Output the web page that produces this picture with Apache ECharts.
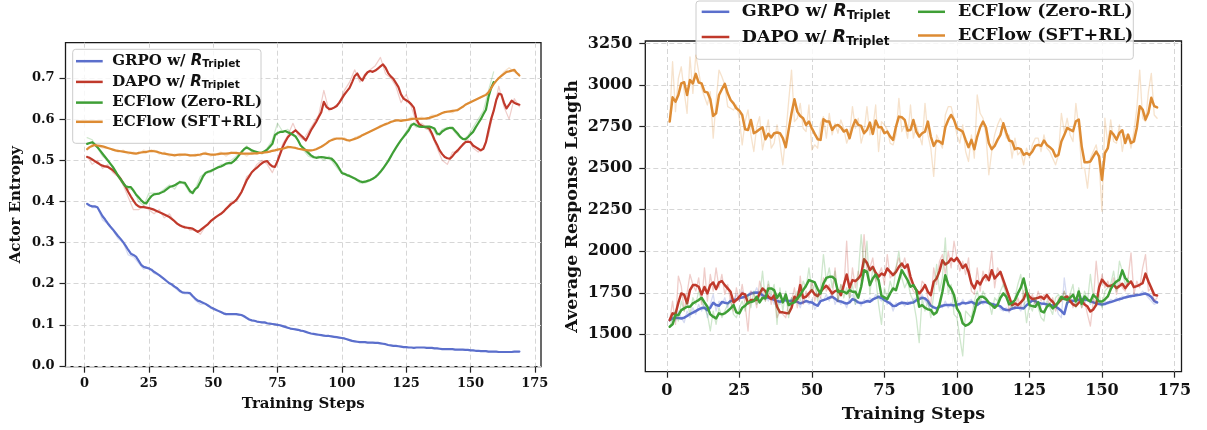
<!DOCTYPE html>
<html>
<head>
<meta charset="utf-8">
<script src="https://cdn.jsdelivr.net/npm/echarts@6/dist/echarts.min.js"></script>
<style>
  html, body { margin: 0; padding: 0; background: #fff; }
  #chart { width: 1207px; height: 430px; }
</style>
</head>
<body>
<div id="chart"></div>
<script>
// ---- data: actor entropy (left), smoothed lines, one value per step from step 1
var entGrpo = [
  0.394, 0.390, 0.388, 0.388, 0.386, 0.375, 0.364, 0.356, 0.347, 0.339,
  0.332, 0.324, 0.316, 0.309, 0.301, 0.292, 0.282, 0.273, 0.270, 0.266,
  0.256, 0.246, 0.241, 0.239, 0.237, 0.234, 0.229, 0.225, 0.221, 0.216,
  0.211, 0.206, 0.201, 0.198, 0.193, 0.189, 0.183, 0.179, 0.178, 0.178,
  0.177, 0.170, 0.164, 0.159, 0.157, 0.154, 0.151, 0.147, 0.143, 0.140,
  0.137, 0.134, 0.131, 0.128, 0.126, 0.126, 0.126, 0.126, 0.126, 0.125,
  0.124, 0.121, 0.117, 0.113, 0.111, 0.110, 0.108, 0.107, 0.106, 0.106,
  0.104, 0.103, 0.102, 0.101, 0.100, 0.099, 0.097, 0.095, 0.093, 0.091,
  0.090, 0.089, 0.088, 0.086, 0.085, 0.083, 0.081, 0.079, 0.078, 0.077,
  0.076, 0.075, 0.074, 0.073, 0.073, 0.072, 0.071, 0.070, 0.069, 0.068,
  0.067, 0.065, 0.063, 0.061, 0.060, 0.059, 0.058, 0.058, 0.058, 0.057,
  0.057, 0.057, 0.056, 0.056, 0.055, 0.054, 0.053, 0.051, 0.050, 0.049,
  0.049, 0.048, 0.047, 0.046, 0.046, 0.045, 0.045, 0.044, 0.045, 0.045,
  0.045, 0.045, 0.044, 0.044, 0.044, 0.043, 0.043, 0.042, 0.041, 0.041,
  0.041, 0.041, 0.041, 0.040, 0.040, 0.040, 0.040, 0.039, 0.039, 0.038,
  0.038, 0.037, 0.037, 0.036, 0.036, 0.036, 0.035, 0.035, 0.035, 0.035,
  0.034, 0.034, 0.034, 0.034, 0.034, 0.034, 0.035, 0.035, 0.035
];
var entDapo = [
  0.508, 0.506, 0.502, 0.498, 0.494, 0.490, 0.487, 0.485, 0.484, 0.480,
  0.476, 0.470, 0.463, 0.455, 0.445, 0.435, 0.423, 0.412, 0.402, 0.393,
  0.388, 0.386, 0.386, 0.385, 0.384, 0.382, 0.380, 0.377, 0.374, 0.371,
  0.368, 0.365, 0.362, 0.357, 0.352, 0.346, 0.342, 0.339, 0.337, 0.336,
  0.335, 0.334, 0.330, 0.326, 0.330, 0.335, 0.340, 0.345, 0.352, 0.357,
  0.362, 0.366, 0.370, 0.375, 0.382, 0.388, 0.394, 0.398, 0.404, 0.413,
  0.423, 0.437, 0.451, 0.461, 0.471, 0.477, 0.482, 0.488, 0.493, 0.497,
  0.498, 0.490, 0.485, 0.484, 0.498, 0.515, 0.532, 0.545, 0.556, 0.563,
  0.568, 0.573, 0.567, 0.561, 0.555, 0.548, 0.560, 0.573, 0.583, 0.593,
  0.605, 0.617, 0.642, 0.630, 0.625, 0.625, 0.628, 0.632, 0.640, 0.650,
  0.660, 0.668, 0.676, 0.690, 0.705, 0.711, 0.700, 0.694, 0.706, 0.714,
  0.717, 0.715, 0.718, 0.723, 0.728, 0.733, 0.725, 0.712, 0.704, 0.698,
  0.688, 0.678, 0.660, 0.650, 0.646, 0.642, 0.636, 0.628, 0.600, 0.588,
  0.584, 0.581, 0.580, 0.577, 0.565, 0.550, 0.538, 0.524, 0.515, 0.508,
  0.505, 0.504, 0.510, 0.518, 0.524, 0.531, 0.538, 0.544, 0.545, 0.544,
  0.536, 0.532, 0.528, 0.524, 0.528, 0.544, 0.573, 0.600, 0.620, 0.646,
  0.662, 0.660, 0.640, 0.626, 0.635, 0.645, 0.640, 0.637, 0.635
];
var entZero = [
  0.540, 0.542, 0.544, 0.538, 0.532, 0.524, 0.516, 0.508, 0.500, 0.492,
  0.484, 0.474, 0.463, 0.454, 0.445, 0.437, 0.435, 0.435, 0.426, 0.417,
  0.410, 0.403, 0.397, 0.395, 0.405, 0.413, 0.417, 0.418, 0.419, 0.422,
  0.425, 0.430, 0.435, 0.437, 0.439, 0.443, 0.447, 0.446, 0.445, 0.435,
  0.425, 0.420, 0.430, 0.435, 0.447, 0.460, 0.469, 0.472, 0.474, 0.477,
  0.480, 0.483, 0.485, 0.488, 0.492, 0.493, 0.493, 0.498, 0.504, 0.512,
  0.520, 0.527, 0.531, 0.528, 0.524, 0.522, 0.520, 0.518, 0.519, 0.522,
  0.526, 0.533, 0.540, 0.561, 0.566, 0.569, 0.569, 0.571, 0.568, 0.565,
  0.562, 0.558, 0.548, 0.536, 0.530, 0.524, 0.518, 0.512, 0.508, 0.506,
  0.507, 0.508, 0.507, 0.506, 0.505, 0.504, 0.498, 0.490, 0.480, 0.469,
  0.467, 0.464, 0.462, 0.459, 0.456, 0.452, 0.449, 0.447, 0.448, 0.450,
  0.452, 0.455, 0.459, 0.465, 0.472, 0.480, 0.489, 0.498, 0.509, 0.520,
  0.530, 0.540, 0.549, 0.557, 0.565, 0.573, 0.585, 0.589, 0.585, 0.582,
  0.581, 0.581, 0.582, 0.582, 0.580, 0.577, 0.565, 0.563, 0.570, 0.574,
  0.577, 0.579, 0.579, 0.572, 0.565, 0.557, 0.552, 0.551, 0.556, 0.563,
  0.569, 0.580, 0.590, 0.600, 0.612, 0.623, 0.654, 0.675, 0.690
];
var entSft = [
  0.527, 0.532, 0.535, 0.537, 0.536, 0.535, 0.534, 0.532, 0.530, 0.528,
  0.526, 0.524, 0.523, 0.522, 0.521, 0.520, 0.519, 0.518, 0.517, 0.516,
  0.518, 0.519, 0.520, 0.520, 0.522, 0.523, 0.522, 0.521, 0.519, 0.517,
  0.516, 0.515, 0.514, 0.513, 0.512, 0.513, 0.514, 0.514, 0.514, 0.513,
  0.512, 0.512, 0.512, 0.513, 0.514, 0.516, 0.516, 0.515, 0.514, 0.514,
  0.514, 0.515, 0.516, 0.516, 0.516, 0.517, 0.518, 0.518, 0.518, 0.517,
  0.516, 0.516, 0.516, 0.516, 0.516, 0.517, 0.517, 0.518, 0.518, 0.519,
  0.520, 0.521, 0.523, 0.524, 0.526, 0.527, 0.528, 0.530, 0.532, 0.532,
  0.531, 0.530, 0.528, 0.527, 0.526, 0.525, 0.524, 0.524, 0.525, 0.527,
  0.530, 0.533, 0.537, 0.541, 0.546, 0.549, 0.551, 0.553, 0.553, 0.553,
  0.551, 0.549, 0.548, 0.550, 0.552, 0.554, 0.557, 0.561, 0.564, 0.567,
  0.570, 0.573, 0.576, 0.579, 0.582, 0.585, 0.588, 0.590, 0.593, 0.595,
  0.597, 0.597, 0.596, 0.597, 0.598, 0.599, 0.600, 0.601, 0.601, 0.601,
  0.601, 0.601, 0.602, 0.603, 0.605, 0.607, 0.609, 0.612, 0.615, 0.617,
  0.618, 0.619, 0.620, 0.621, 0.622, 0.626, 0.630, 0.635, 0.638, 0.641,
  0.644, 0.647, 0.650, 0.653, 0.656, 0.659, 0.665, 0.675, 0.685, 0.693,
  0.700, 0.705, 0.710, 0.715, 0.716, 0.718, 0.720, 0.712, 0.706
];
// raw (unsmoothed) entropy, read at odd steps 1, 3, 5, ...
var entGrpoRaw = [
  0.395, 0.385, 0.385, 0.355, 0.345, 0.330, 0.310, 0.300, 0.270, 0.265,
  0.250, 0.235, 0.240, 0.225, 0.220, 0.210, 0.200, 0.190, 0.180, 0.175,
  0.175, 0.160, 0.150, 0.152, 0.140, 0.135, 0.130, 0.125, 0.127, 0.125,
  0.123, 0.115, 0.110, 0.108, 0.105, 0.103, 0.102, 0.100, 0.096, 0.092,
  0.090, 0.087, 0.085, 0.080, 0.078, 0.075, 0.074, 0.072, 0.071, 0.068,
  0.066, 0.062, 0.060, 0.058, 0.058, 0.057, 0.056, 0.055, 0.053, 0.050,
  0.049, 0.047, 0.046, 0.045, 0.045, 0.045, 0.044, 0.044, 0.043, 0.041,
  0.041, 0.041, 0.040, 0.040, 0.039, 0.038, 0.037, 0.036, 0.035, 0.035,
  0.034, 0.034, 0.034, 0.035, 0.035
];
var entDapoRaw = [
  0.510, 0.490, 0.500, 0.480, 0.490, 0.470, 0.460, 0.440, 0.410, 0.380,
  0.380, 0.390, 0.380, 0.370, 0.380, 0.360, 0.370, 0.350, 0.340, 0.340,
  0.330, 0.330, 0.320, 0.340, 0.350, 0.360, 0.370, 0.380, 0.400, 0.400,
  0.420, 0.460, 0.470, 0.490, 0.500, 0.490, 0.470, 0.500, 0.540, 0.560,
  0.590, 0.560, 0.550, 0.570, 0.590, 0.610, 0.670, 0.620, 0.630, 0.640,
  0.670, 0.690, 0.720, 0.690, 0.710, 0.720, 0.730, 0.750, 0.710, 0.700,
  0.680, 0.640, 0.660, 0.630, 0.590, 0.590, 0.580, 0.560, 0.530, 0.500,
  0.490, 0.520, 0.520, 0.540, 0.550, 0.530, 0.520, 0.530, 0.560, 0.620,
  0.680, 0.630, 0.600, 0.650, 0.630
];
var entZeroRaw = [
  0.555, 0.550, 0.530, 0.510, 0.500, 0.480, 0.460, 0.440, 0.430, 0.430,
  0.400, 0.390, 0.420, 0.420, 0.420, 0.430, 0.440, 0.430, 0.450, 0.440,
  0.420, 0.430, 0.460, 0.470, 0.470, 0.480, 0.490, 0.490, 0.500, 0.510,
  0.520, 0.535, 0.520, 0.520, 0.515, 0.530, 0.550, 0.590, 0.570, 0.575,
  0.560, 0.550, 0.525, 0.510, 0.505, 0.510, 0.500, 0.510, 0.490, 0.475,
  0.465, 0.460, 0.455, 0.445, 0.445, 0.450, 0.460, 0.470, 0.490, 0.510,
  0.530, 0.550, 0.570, 0.590, 0.580, 0.585, 0.575, 0.580, 0.560, 0.575,
  0.580, 0.575, 0.560, 0.550, 0.560, 0.580, 0.600, 0.620, 0.670, 0.715
];
var entSftRaw = [
  0.525, 0.540, 0.535, 0.530, 0.530, 0.525, 0.520, 0.525, 0.515, 0.520,
  0.515, 0.525, 0.520, 0.525, 0.515, 0.520, 0.510, 0.515, 0.510, 0.515,
  0.510, 0.515, 0.510, 0.520, 0.510, 0.515, 0.520, 0.510, 0.520, 0.515,
  0.520, 0.510, 0.520, 0.515, 0.520, 0.520, 0.525, 0.525, 0.530, 0.535,
  0.530, 0.530, 0.525, 0.520, 0.525, 0.530, 0.535, 0.545, 0.555, 0.550,
  0.555, 0.545, 0.555, 0.560, 0.565, 0.570, 0.575, 0.585, 0.585, 0.595,
  0.595, 0.600, 0.595, 0.605, 0.600, 0.605, 0.600, 0.610, 0.610, 0.615,
  0.620, 0.615, 0.625, 0.630, 0.640, 0.645, 0.650, 0.655, 0.665, 0.685,
  0.700, 0.715, 0.725, 0.715, 0.710
];

// ---- data: average response length (right), one value per step from step 1
var lenGrpo = [
  1585, 1596, 1600, 1598, 1595, 1600, 1610, 1622, 1630, 1640,
  1650, 1658, 1660, 1645, 1660, 1690, 1676, 1672, 1695, 1690,
  1686, 1700, 1706, 1710, 1718, 1722, 1726, 1735, 1745, 1750,
  1752, 1750, 1735, 1726, 1720, 1716, 1708, 1700, 1696, 1702,
  1706, 1700, 1702, 1700, 1695, 1686, 1692, 1700, 1695, 1692,
  1680, 1672, 1700, 1706, 1712, 1720, 1726, 1715, 1700, 1698,
  1690, 1685, 1692, 1712, 1705, 1692, 1688, 1692, 1700, 1696,
  1710, 1718, 1726, 1718, 1706, 1696, 1685, 1670, 1672, 1684,
  1690, 1688, 1684, 1690, 1692, 1705, 1712, 1720, 1716, 1700,
  1672, 1662, 1656, 1665, 1672, 1676, 1676, 1676, 1674, 1678,
  1682, 1690, 1686, 1690, 1695, 1686, 1676, 1690, 1694, 1694,
  1688, 1682, 1678, 1676, 1668, 1652, 1646, 1646, 1654, 1660,
  1660, 1658, 1656, 1675, 1690, 1704, 1700, 1690, 1686, 1684,
  1680, 1676, 1674, 1668, 1655, 1640, 1622, 1690, 1700, 1702,
  1704, 1708, 1712, 1710, 1706, 1700, 1692, 1686, 1682, 1680,
  1682, 1690, 1694, 1700, 1706, 1712, 1716, 1722, 1726, 1730,
  1732, 1736, 1738, 1742, 1745, 1738, 1725, 1700, 1692
];
var lenDapo = [
  1586, 1626, 1622, 1690, 1746, 1738, 1686, 1766, 1796, 1796,
  1786, 1740, 1785, 1746, 1796, 1812, 1772, 1812, 1820, 1796,
  1776, 1756, 1692, 1706, 1726, 1746, 1740, 1686, 1706, 1706,
  1706, 1745, 1776, 1760, 1726, 1712, 1734, 1666, 1632, 1632,
  1628, 1626, 1660, 1726, 1712, 1796, 1720, 1726, 1746, 1766,
  1740, 1730, 1756, 1776, 1792, 1772, 1746, 1760, 1766, 1736,
  1796, 1860, 1780, 1826, 1820, 1836, 1860, 1952, 1930, 1886,
  1906, 1870, 1846, 1866, 1856, 1896, 1876, 1856, 1876, 1906,
  1926, 1900, 1920, 1846, 1796, 1766, 1746, 1766, 1796, 1756,
  1736, 1816, 1836, 1880, 1946, 1920, 1932, 1956, 1940, 1960,
  1932, 1900, 1920, 1876, 1806, 1776, 1820, 1800, 1836, 1856,
  1826, 1886, 1836, 1856, 1876, 1826, 1776, 1726, 1676, 1686,
  1676, 1692, 1712, 1756, 1726, 1712, 1715, 1720, 1726, 1712,
  1736, 1712, 1696, 1672, 1690, 1712, 1720, 1728, 1700, 1680,
  1671, 1690, 1698, 1680, 1667, 1637, 1650, 1677, 1784, 1829,
  1808, 1790, 1792, 1798, 1778, 1790, 1804, 1778, 1800, 1818,
  1784, 1790, 1798, 1808, 1865, 1818, 1778, 1738, 1734
];
var lenZero = [
  1546, 1560, 1616, 1616, 1646, 1656, 1666, 1666, 1686, 1696,
  1706, 1720, 1692, 1666, 1620, 1606, 1596, 1626, 1620, 1626,
  1640, 1656, 1676, 1632, 1626, 1660, 1672, 1692, 1694, 1700,
  1726, 1692, 1720, 1716, 1776, 1776, 1766, 1720, 1746, 1692,
  1740, 1676, 1686, 1692, 1716, 1736, 1766, 1792, 1826, 1820,
  1812, 1772, 1746, 1806, 1840, 1846, 1846, 1832, 1756, 1760,
  1756, 1746, 1766, 1756, 1756, 1720, 1786, 1886, 1876, 1796,
  1836, 1860, 1826, 1732, 1722, 1712, 1746, 1776, 1766, 1826,
  1886, 1856, 1826, 1786, 1796, 1766, 1666, 1676, 1660, 1650,
  1646, 1620, 1632, 1680, 1756, 1856, 1800, 1776, 1736, 1656,
  1626, 1566, 1552, 1560, 1576, 1636, 1706, 1726, 1726, 1712,
  1690, 1676, 1660, 1676, 1720, 1746, 1726, 1680, 1690, 1706,
  1746, 1780, 1836, 1760, 1676, 1670, 1666, 1692, 1640, 1632,
  1666, 1680, 1656, 1670, 1696, 1726, 1712, 1708, 1720, 1738,
  1698, 1758, 1683, 1728, 1710, 1698, 1738, 1720, 1698, 1698,
  1710, 1728, 1772, 1800, 1818, 1829, 1885, 1839, 1818
];
var lenSft = [
  2780, 2926, 2900, 2940, 3010, 3017, 2940, 3030, 3010, 3067,
  3015, 3010, 2960, 2956, 2914, 2814, 2830, 2940, 2975, 3007,
  2950, 2910, 2890, 2860, 2846, 2820, 2734, 2730, 2790, 2710,
  2720, 2734, 2746, 2674, 2706, 2684, 2710, 2714, 2710, 2680,
  2626, 2730, 2830, 2914, 2840, 2814, 2800, 2760, 2780, 2740,
  2706, 2674, 2670, 2794, 2780, 2780, 2730, 2754, 2760, 2746,
  2720, 2730, 2680, 2746, 2790, 2760, 2754, 2710, 2730, 2774,
  2706, 2786, 2746, 2746, 2710, 2720, 2690, 2670, 2750, 2810,
  2806, 2790, 2726, 2730, 2790, 2720, 2690, 2710, 2720, 2780,
  2690, 2634, 2665, 2660, 2646, 2746, 2790, 2820, 2790, 2740,
  2730, 2720, 2670, 2626, 2670, 2614, 2690, 2746, 2780, 2746,
  2650, 2614, 2634, 2670, 2700, 2770, 2714, 2666, 2660, 2614,
  2620, 2614, 2580, 2590, 2580, 2600, 2634, 2640, 2634, 2666,
  2640, 2626, 2610, 2570, 2580, 2660, 2700, 2742, 2732, 2722,
  2782, 2792, 2631, 2535, 2535, 2540, 2570, 2600, 2570, 2430,
  2590, 2621, 2722, 2702, 2671, 2712, 2728, 2651, 2702, 2651,
  2661, 2742, 2873, 2853, 2792, 2833, 2923, 2873, 2865
];
var lenGrpoRaw = [
  1580, 1620, 1580, 1640, 1600, 1570, 1640, 1600, 1660, 1620,
  1680, 1640, 1700, 1600, 1680, 1740, 1640, 1700, 1680, 1720,
  1660, 1720, 1700, 1740, 1700, 1760, 1720, 1740, 1760, 1740,
  1780, 1740, 1720, 1740, 1700, 1740, 1680, 1720, 1680, 1720,
  1700, 1680, 1720, 1690, 1700, 1660, 1720, 1700, 1680, 1710,
  1650, 1680, 1720, 1700, 1740, 1700, 1760, 1680, 1720, 1680,
  1700, 1660, 1720, 1740, 1680, 1700, 1670, 1710, 1690, 1720,
  1700, 1740, 1720, 1700, 1720, 1680, 1700, 1640, 1690, 1680,
  1700, 1670, 1700, 1680, 1710, 1720, 1700, 1740, 1700, 1680,
  1640, 1670, 1640, 1690, 1660, 1700, 1660, 1690, 1660, 1700,
  1670, 1710, 1680, 1700, 1710, 1660, 1680, 1710, 1680, 1700,
  1680, 1690, 1660, 1690, 1650, 1640, 1660, 1630, 1670, 1650,
  1670, 1640, 1680, 1700, 1700, 1720, 1680, 1700, 1670, 1700,
  1660, 1690, 1660, 1680, 1620, 1600, 1840, 1700, 1720, 1690,
  1720, 1700, 1730, 1690, 1720, 1680, 1700, 1670, 1690, 1670,
  1700, 1680, 1710, 1700, 1720, 1700, 1730, 1720, 1740, 1720,
  1750, 1730, 1740, 1760, 1740, 1720, 1700, 1680, 1690
];
var lenDapoRaw = [
  1580, 1700, 1560, 1850, 1790, 1640, 1750, 1860, 1800, 1760,
  1840, 1680, 1900, 1700, 1860, 1760, 1900, 1780, 1860, 1740,
  1800, 1700, 1640, 1780, 1700, 1800, 1680, 1520, 1760, 1740,
  1660, 1820, 1760, 1700, 1800, 1680, 1760, 1600, 1640, 1620,
  1600, 1680, 1700, 1780, 1660, 1850, 1680, 1760, 1720, 1820,
  1700, 1780, 1720, 1840, 1760, 1800, 1720, 1900, 1700, 1800,
  1760, 2060, 1720, 1900, 1780, 1880, 1820, 2100, 1880, 1900,
  1960, 1820, 1860, 1900, 1800, 1980, 1840, 1860, 1900, 1960,
  1900, 1960, 1880, 1800, 1760, 1740, 1700, 1820, 1800, 1720,
  1680, 1900, 1800, 1940, 1980, 1860, 2000, 1900, 2060, 1960,
  1880, 1940, 1860, 1960, 1760, 1740, 1900, 1760, 1880, 1820,
  1860, 2000, 1780, 1900, 1860, 1800, 1760, 1640, 1700, 1660,
  1720, 1660, 1760, 1780, 1700, 1740, 1680, 1760, 1700, 1740,
  1720, 1680, 1720, 1640, 1720, 1700, 1760, 1700, 1740, 1660,
  1700, 1720, 1660, 1700, 1620, 1550, 1700, 1940, 1760, 1860,
  1780, 1820, 1760, 1840, 1740, 1820, 1780, 1760, 1840, 1990,
  1740, 1820, 1780, 1900, 1980, 1760, 1780, 1700, 1720
];
var lenZeroRaw = [
  1540, 1600, 1640, 1580, 1700, 1640, 1700, 1620, 1720, 1680,
  1760, 1700, 1660, 1620, 1520, 1640, 1560, 1660, 1600, 1640,
  1680, 1700, 1620, 1600, 1660, 1700, 1640, 1740, 1660, 1760,
  1680, 1720, 1880, 1700, 1820, 1740, 1800, 1560, 1780, 1640,
  1760, 1600, 1720, 1700, 1760, 1700, 1820, 1780, 1900, 1760,
  1800, 1700, 1780, 1980, 1820, 1900, 1780, 1880, 1700, 1800,
  1720, 1780, 1720, 1800, 1680, 1860, 2100, 1900, 2060, 1740,
  1900, 1840, 1680, 1560, 1780, 1720, 1820, 1760, 1900, 2000,
  1840, 1780, 1820, 1740, 1700, 1600, 1450, 1720, 1640, 1700,
  1600, 1740, 1920, 1760, 1840, 2080, 1740, 1800, 1620, 1600,
  1480, 1370, 1640, 1620, 1600, 1700, 1760, 1680, 1760, 1720,
  1700, 1620, 1720, 1700, 1760, 1800, 1740, 1700, 1660, 1720,
  1800, 1860, 1720, 1570, 1680, 1640, 1720, 1660, 1600, 1580,
  1700, 1660, 1620, 1720, 1740, 1700, 1760, 1680, 1740, 1800,
  1660, 1780, 1660, 1760, 1700, 1860, 1720, 1680, 1740, 1660,
  1760, 1780, 1800, 1880, 1760, 1940, 1880, 1800, 1840
];
var lenSftRaw = [
  2790, 3140, 2840, 3040, 3110, 2960, 2830, 3170, 2950, 3180,
  3080, 2980, 2930, 2880, 2960, 2680, 2900, 3090, 3050, 3000,
  2870, 2860, 2850, 2880, 2800, 2640, 2780, 2850, 2700, 2600,
  2750, 2810, 2610, 2700, 2790, 2620, 2650, 2760, 2650, 2520,
  2700, 2900, 3090, 2780, 2800, 2890, 2740, 2720, 2880, 2610,
  2640, 2620, 2770, 2810, 2680, 2830, 2700, 2770, 2710, 2790,
  2740, 2650, 2700, 2870, 2740, 2800, 2650, 2720, 2870, 2700,
  2740, 2880, 2600, 2780, 2760, 2730, 2650, 2640, 2700, 2920,
  2720, 2760, 2680, 2880, 2680, 2760, 2700, 2640, 2890, 2700,
  2620, 2450, 2700, 2660, 2620, 2820, 2870, 2870, 2800, 2700,
  2650, 2760, 2600, 2540, 2700, 2560, 2940, 2830, 2800, 2700,
  2460, 2600, 2700, 2760, 2800, 2760, 2680, 2700, 2560, 2680,
  2580, 2600, 2520, 2620, 2560, 2640, 2680, 2680, 2600, 2700,
  2620, 2600, 2560, 2520, 2580, 2830, 2720, 2800, 2700, 2660,
  2890, 2740, 2500, 2500, 2380, 2560, 2600, 2640, 2540, 2240,
  2800, 2640, 2790, 2660, 2650, 2760, 2600, 2700, 2700, 2620,
  2720, 2860, 3090, 2800, 2780, 2960, 3070, 2820, 2800
];

// ---- axes ticks
var stepTicks = { min: 0, max: 175, interval: 25 };
var entTicks = { min: 0, max: 0.7, interval: 0.1 };
var lenTicks = { min: 1500, max: 3250, interval: 250 };

var methods = ['GRPO', 'DAPO', 'ZeroRL', 'SFTRL'];
var colors = { GRPO: '#5b6fcc', DAPO: '#c0392b', ZeroRL: '#3f9f36', SFTRL: '#dd8b33' };
var labels = {
  GRPO: { main: 'GRPO w/ ', sub: true },
  DAPO: { main: 'DAPO w/ ', sub: true },
  ZeroRL: { main: 'ECFlow (Zero-RL)', sub: false },
  SFTRL: { main: 'ECFlow (SFT+RL)', sub: false }
};

var SERIF = 'DejaVu Serif';
var SANS = 'DejaVu Sans';

function toPoints(arr, start, step) {
  return arr.map(function (v, i) { return [start + i * step, v]; });
}

function legendText(name) {
  var l = labels[name];
  return l.sub ? '{b|' + l.main + '}{i|R}{s|Triplet}' : '{b|' + l.main + '}';
}

function richStyle(size, subSize, lh, subLh) {
  return {
    b: { fontFamily: SERIF, fontWeight: 'bold', fontSize: size, lineHeight: lh, color: '#111' },
    i: { fontFamily: SANS, fontWeight: 'bold', fontStyle: 'italic', fontSize: size, lineHeight: lh, color: '#111' },
    s: { fontFamily: SANS, fontWeight: 'bold', fontSize: subSize, lineHeight: subLh, verticalAlign: 'bottom', color: '#111' }
  };
}

function lineSeries(name, data, color, width, opacity, gi) {
  return {
    type: 'line', name: name, data: data,
    xAxisIndex: gi, yAxisIndex: gi,
    showSymbol: false, symbol: 'none', silent: true, animation: false,
    color: color,
    lineStyle: { color: color, width: width, opacity: opacity, cap: 'round', join: 'round' },
    emphasis: { disabled: true }
  };
}

var series = [];
var entSmooth = { GRPO: entGrpo, DAPO: entDapo, ZeroRL: entZero, SFTRL: entSft };
var entRaw = { GRPO: entGrpoRaw, DAPO: entDapoRaw, ZeroRL: entZeroRaw, SFTRL: entSftRaw };
var lenSmooth = { GRPO: lenGrpo, DAPO: lenDapo, ZeroRL: lenZero, SFTRL: lenSft };
var lenRaw = { GRPO: lenGrpoRaw, DAPO: lenDapoRaw, ZeroRL: lenZeroRaw, SFTRL: lenSftRaw };

methods.forEach(function (m) {
  series.push(lineSeries(m + ' raw', toPoints(entRaw[m], 1, 2), colors[m], 1.2, 0.25, 0));
  series.push(lineSeries(m, toPoints(entSmooth[m], 1, 1), colors[m], 2.2, 1, 0));
});
methods.forEach(function (m) {
  series.push(lineSeries(m + ' raw', toPoints(lenRaw[m], 1, 1), colors[m], 1.3, 0.25, 3));
  series.push(lineSeries(m, toPoints(lenSmooth[m], 1, 1), colors[m], 2.5, 1, 3));
});

var gridLine = { show: true, lineStyle: { color: '#d6d6d6', width: 1, type: [5, 3] } };
var tickLine = { color: '#222', width: 1.2 };

function dataAxis(gi, min, max, name, gap, size) {
  return {
    gridIndex: gi, type: 'value', min: min, max: max,
    axisLine: { show: false }, axisTick: { show: false },
    axisLabel: { show: false }, splitLine: { show: false },
    name: name, nameLocation: 'middle', nameGap: gap,
    nameTextStyle: { fontFamily: SERIF, fontWeight: 'bold', fontSize: size, color: '#111' }
  };
}
function tickAxis(gi, t, size, margin, fmt) {
  return {
    gridIndex: gi, type: 'value', min: t.min, max: t.max, interval: t.interval,
    axisLine: { show: false },
    axisTick: { show: true, length: 6, lineStyle: tickLine },
    axisLabel: { margin: margin, fontFamily: SERIF, fontWeight: 'bold', fontSize: size, color: '#111',
      formatter: fmt || function (v) { return String(v); } },
    splitLine: gridLine
  };
}
function hiddenAxis(gi) {
  return { gridIndex: gi, type: 'value', show: false, min: 0, max: 1, splitLine: { show: false } };
}

var frame = { show: true, borderColor: '#1a1a1a', borderWidth: 1.3, backgroundColor: 'transparent' };

var option = {
  animation: false,
  backgroundColor: '#fff',
  grid: [
    Object.assign({ left: 65.5, top: 42.7, width: 475.5, height: 324 }, frame),
    { left: 84.54, top: 42.7, width: 450.3, height: 324 },
    { left: 65.5, top: 78, width: 475.5, height: 288 },
    Object.assign({ left: 645.3, top: 41, width: 536.2, height: 330.7 }, frame),
    { left: 666.77, top: 41, width: 507.76, height: 330.7 },
    { left: 645.3, top: 43.5, width: 536.2, height: 290.8 }
  ],
  xAxis: [
    dataAxis(0, -7.4, 177.4, 'Training Steps', 30, 15),
    tickAxis(1, stepTicks, 13, 10),
    hiddenAxis(2),
    dataAxis(3, -7.4, 177.4, 'Training Steps', 34, 17.5),
    tickAxis(4, stepTicks, 16, 11),
    hiddenAxis(5)
  ],
  yAxis: [
    dataAxis(0, -0.0017, 0.7858, 'Actor Entropy', 42, 15),
    hiddenAxis(1),
    tickAxis(2, entTicks, 13, 11, function (v) { return v.toFixed(1); }),
    dataAxis(3, 1275, 3265, 'Average Response Length', 64, 17.5),
    hiddenAxis(4),
    tickAxis(5, lenTicks, 16, 13)
  ],
  graphic: [
    { type: 'rect', z: 3, silent: true, shape: { x: 72.7, y: 49.3, width: 188.3, height: 94, r: 3 },
      style: { fill: 'rgba(255,255,255,0.8)', stroke: '#cccccc', lineWidth: 1 } },
    { type: 'rect', z: 3, silent: true, shape: { x: 696, y: 1, width: 437.3, height: 58.3, r: 3 },
      style: { fill: 'rgba(255,255,255,0.8)', stroke: '#cccccc', lineWidth: 1 } }
  ],
  legend: [
    { orient: 'vertical', left: 76, top: 53.7, padding: 0, itemGap: 4.2, z: 5,
      itemWidth: 26.7, itemHeight: 2.5, icon: 'rect', selectedMode: false,
      data: methods, formatter: legendText,
      textStyle: { padding: [0, 0, 0, 4.6], rich: richStyle(15, 10.5, 18, 12) } },
    { orient: 'vertical', left: 701.7, top: 2.8, padding: 0, itemGap: 5.7, z: 5,
      itemWidth: 27.6, itemHeight: 2.5, icon: 'rect', selectedMode: false,
      data: ['GRPO', 'DAPO'], formatter: legendText,
      textStyle: { padding: [0, 0, 0, 7.4], rich: richStyle(17.5, 12, 21, 15) } },
    { orient: 'vertical', left: 918, top: 2.8, padding: 0, itemGap: 5.7, z: 5,
      itemWidth: 27, itemHeight: 2.5, icon: 'rect', selectedMode: false,
      data: ['ZeroRL', 'SFTRL'], formatter: legendText,
      textStyle: { padding: [0, 0, 0, 8], rich: richStyle(17.5, 12, 21, 15) } }
  ],
  series: series
};

var myChart = echarts.init(document.getElementById('chart'), null, { renderer: 'canvas' });
myChart.setOption(option);
</script>
</body>
</html>
